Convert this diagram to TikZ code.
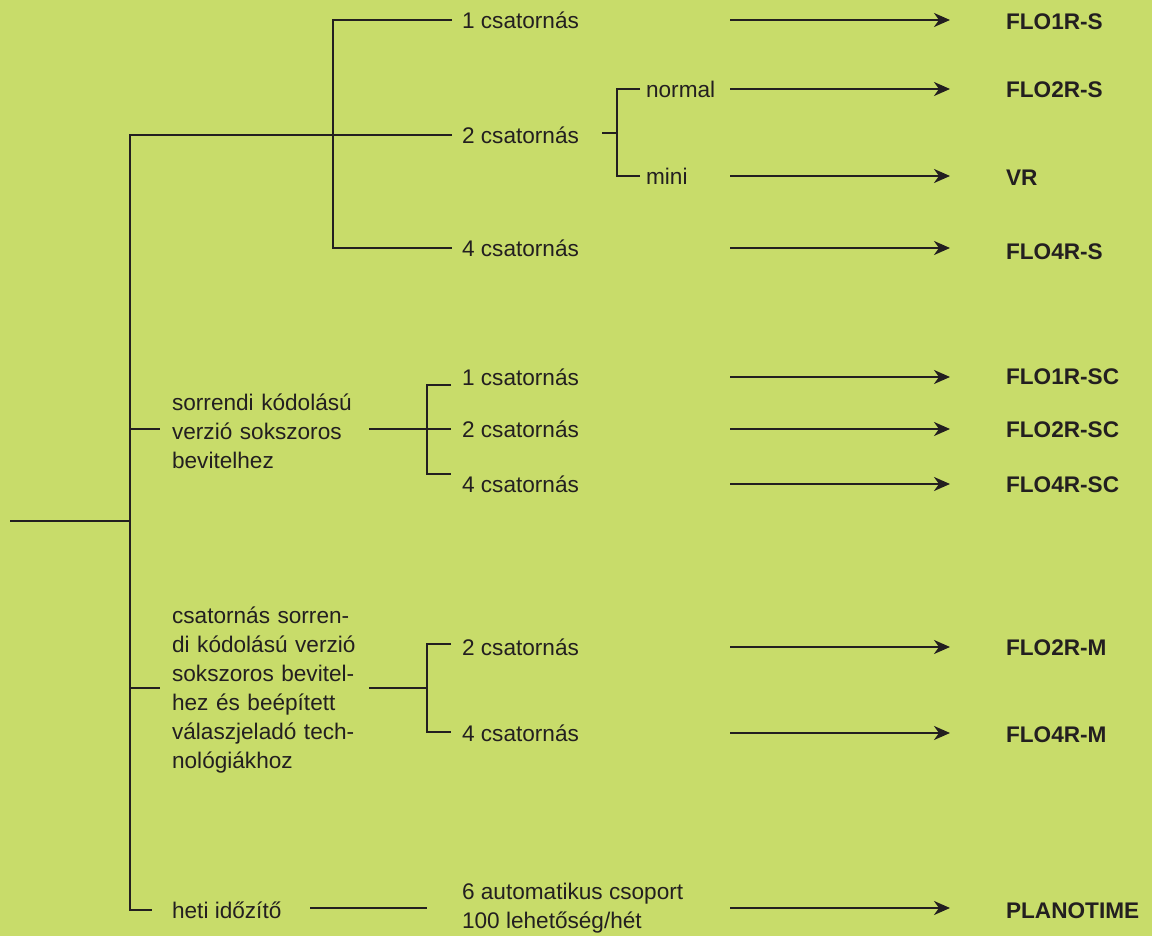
\documentclass[tikz,border=0pt]{standalone}
\usepackage{fontspec}
\setmainfont{Liberation Sans}
\usepackage{tikz}
\usetikzlibrary{arrows.meta, positioning, calc}
\definecolor{leafgreen}{HTML}{C8DC6A}
\definecolor{inkdark}{HTML}{231F20}
\newcommand{\jline}[1]{\makebox[\hsize][s]{#1}}

\begin{document}
\begin{tikzpicture}[x=0.5pt, y=-0.5pt, line width=1.1pt, color=inkdark,
  every node/.style={inner sep=0pt, anchor=west, font=\fontsize{11.3}{14.5}\selectfont},
  prod/.style={font=\fontsize{11.3}{14}\selectfont\bfseries},
  desc/.style={text width=92.5pt, align=left},
  arr/.style={-{Stealth[length=8pt,width=7pt,inset=2.5pt]}}]
  \fill[leafgreen] (0,0) rectangle (1152,936);
  \useasboundingbox (0,0) rectangle (1152,936);
  % Left column
  \node[desc] (seq) at (171,431) {\jline{sorrendi kódolású}\\\jline{verzió sokszoros}\\bevitelhez};
  \node[desc] (chan) at (171,690) {\jline{csatornás sorren-}\\\jline{di kódolású verzió}\\\jline{sokszoros bevitel-}\\\jline{hez és beépített}\\\jline{válaszjeladó tech-}\\nológiákhoz};
  \node (heti) at (171,910) {heti időzítő};
  % Channel options
  \node (k1) at (461,20) {1 csatornás};
  \node (k2) at (461,135) {2 csatornás};
  \node (k4) at (461,248) {4 csatornás};
  \node (nrm) at (645,89) {normal};
  \node (mini) at (645,176) {mini};
  \node (s1) at (461,377) {1 csatornás};
  \node (s2) at (461,429) {2 csatornás};
  \node (s4) at (461,484) {4 csatornás};
  \node (m2) at (461,647) {2 csatornás};
  \node (m4) at (461,733) {4 csatornás};
  \node[align=left] (auto) at (461,908) {6 automatikus csoport\\100 lehetőség/hét};
  % Products
  \node[prod] (p1) at (1005,22) {FLO1R-S};
  \node[prod] (p2) at (1005,90) {FLO2R-S};
  \node[prod] (pvr) at (1005,178) {VR};
  \node[prod] (p4) at (1005,252) {FLO4R-S};
  \node[prod] (sc1) at (1005,377) {FLO1R-SC};
  \node[prod] (sc2) at (1005,430) {FLO2R-SC};
  \node[prod] (sc4) at (1005,485) {FLO4R-SC};
  \node[prod] (pm2) at (1005,648) {FLO2R-M};
  \node[prod] (pm4) at (1005,735) {FLO4R-M};
  \node[prod] (plano) at (1005,911) {PLANOTIME};
  % Tree lines
  \coordinate (root) at (10,521);
  \coordinate (trunk) at (130,521);
  \coordinate (fork) at (333,135);
  \coordinate (sub) at (617,133);
  \coordinate (sfork) at (427,429);
  \coordinate (s1l) at (451,385);
  \coordinate (s4l) at (451,474);
  \coordinate (mfork) at (427,688);
  \coordinate (m2l) at (451,644);
  \coordinate (m4l) at (451,732);
  \coordinate (hetil) at (310,908);
  \coordinate (autol) at (427,908);
  \draw (root) -- (trunk);
  \draw ([xshift=-4.5pt]k2.west) -| (trunk |- heti.west) -- ([xshift=-9.5pt]heti.west);
  \draw (trunk |- sfork) -- ([xshift=-5.5pt]seq.west |- sfork);
  \draw (trunk |- mfork) -- ([xshift=-5.5pt]chan.west |- mfork);
  \draw ([xshift=-4.5pt]k1.west) -| (fork) |- ([xshift=-4.5pt]k4.west);
  \draw (sub) -- ++(-15,0);
  \draw ([xshift=-2.5pt]nrm.west) -| (sub) |- ([xshift=-2.5pt]mini.west);
  \draw ([xshift=5.5pt]seq.east |- sfork) -- (s1l |- sfork);
  \draw (s1l) -| (sfork) |- (s4l);
  \draw ([xshift=5.5pt]chan.east |- mfork) -- (mfork);
  \draw (m2l) -| (mfork) |- (m4l);
  \draw (hetil) -- (autol);
  % Arrows to products
  \coordinate (ax) at (730,0);
  \coordinate (bx) at (950,0);
  \foreach \n in {k1,nrm,mini,k4,s1,s2,s4,m2,m4,auto}
    \draw[arr] (ax |- \n.west) -- (bx |- \n.west);
\end{tikzpicture}
\end{document}
